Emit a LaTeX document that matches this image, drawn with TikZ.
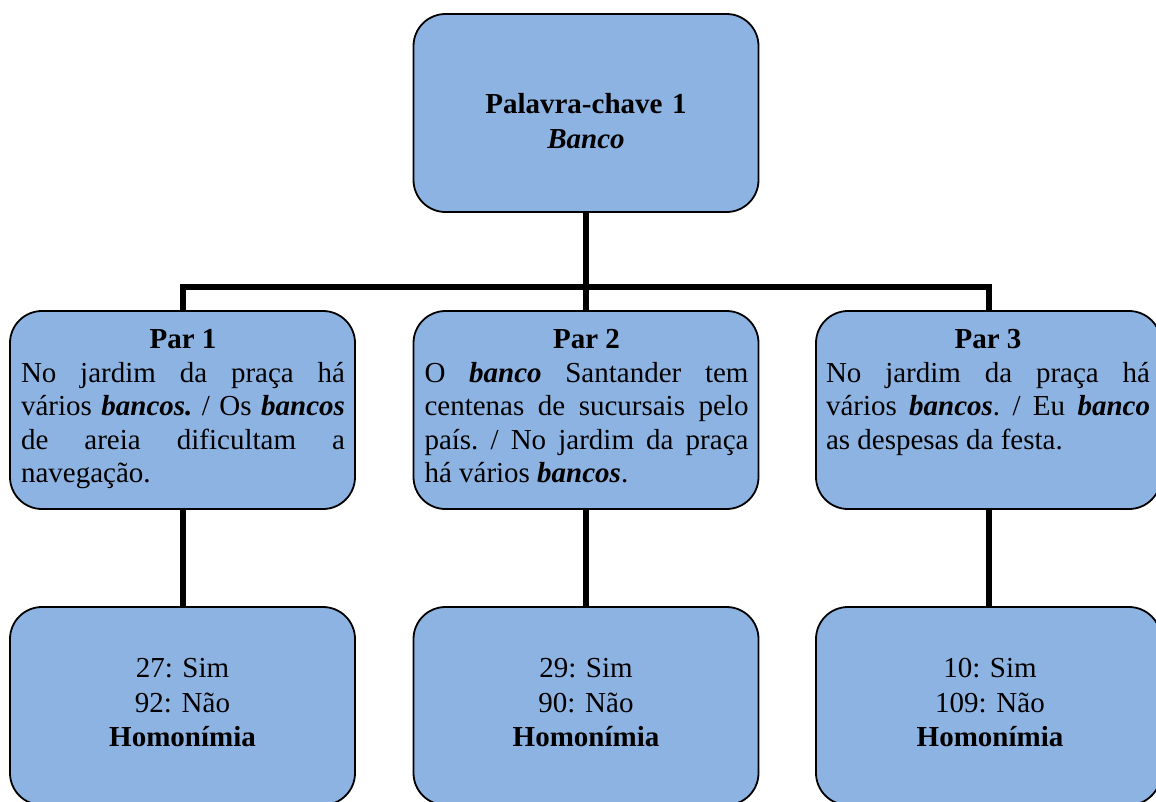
\documentclass[tikz,border=0pt]{standalone}
\usepackage{fontspec}
\setmainfont{Liberation Serif}
\frenchspacing
\definecolor{boxblue}{HTML}{8DB3E2}
\tikzset{
  card/.style={draw=black, line width=1.8pt, fill=boxblue, rounded corners=32pt,
    minimum width=345pt, minimum height=198pt, inner sep=0pt},
  link/.style={line width=6pt, draw=black},
  bodytext/.style={inner sep=0pt, anchor=north, text width=324pt, align=justify,
    font={\fontsize{29}{33.5}\selectfont\frenchspacing\tolerance=10000\hyphenpenalty=10000}},
  centertext/.style={inner sep=0pt, anchor=north, text width=324pt, align=center,
    font={\fontsize{29}{34.3}\selectfont\frenchspacing}},
}
\newcommand{\bbi}[1]{\textbf{\textit{#1}}}
\begin{document}
\begin{tikzpicture}[x=1pt,y=-1pt]
\clip (0,0) rectangle (1156,801);

% boxes
\node[card] (top) at (586,113) {};
\node[card] (p1) at (182.5,410) {};
\node[card] (p2) at (586,410) {};
\node[card] (p3) at (988.5,410) {};
\node[card] (r1) at (182.5,706) {};
\node[card] (r2) at (586,706) {};
\node[card] (r3) at (988.5,706) {};

% connectors
\coordinate (hub) at (586,287);
\draw[link] (top.south) -- (hub);
\draw[link] (p1.north) |- (hub) -| (p3.north);
\draw[link] (hub) -- (p2.north);
\draw[link] (p1.south) -- (r1.north);
\draw[link] (p2.south) -- (r2.north);
\draw[link] (p3.south) -- (r3.north);

% texts
\node[centertext] (topt) at (586,93.5) {\textbf{Palavra-chave 1}\\\textbf{\textit{Banco}}};

\node[bodytext] (p1t) at (183,329.5) {{\centering\textbf{Par 1}\par}
No jardim da praça há\linebreak vários \bbi{bancos.} / Os \bbi{bancos}\linebreak de areia dificultam a\linebreak navegação.};

\node[bodytext] (p2t) at (586.5,329.5) {{\centering\textbf{Par 2}\par}
O \bbi{banco} Santander tem\linebreak centenas de sucursais pelo\linebreak país. / No jardim da praça\linebreak há vários \bbi{bancos}.};

\node[bodytext] (p3t) at (988,329.5) {{\centering\textbf{Par 3}\par}
No jardim da praça há\linebreak vários \bbi{bancos}. / Eu \bbi{banco}\linebreak as despesas da festa.};

\node[centertext] (r1t) at (182.5,658.5) {27: Sim\\92: Não\\\textbf{Homonímia}};
\node[centertext] (r2t) at (586,658.5) {29: Sim\\90: Não\\\textbf{Homonímia}};
\node[centertext] (r3t) at (990,658.5) {10: Sim\\109: Não\\\textbf{Homonímia}};
\end{tikzpicture}
\end{document}
